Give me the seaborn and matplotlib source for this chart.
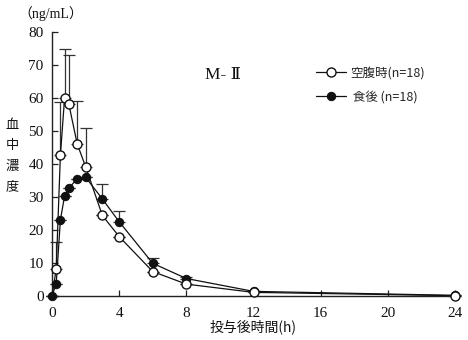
import numpy as np
import pandas as pd
import matplotlib
matplotlib.use("Agg")
import matplotlib.pyplot as plt
import seaborn as sns

# Data
time_h = [0, 0.25, 0.5, 0.75, 1, 1.5, 2, 3, 4, 6, 8, 12, 24]
fasting = [0, 8.1, 42.7, 60.0, 58.2, 46.1, 39.2, 24.4, 18.0, 7.4, 3.6, 1.1, 0.1]
fasting_sd_upper = [0, 16.3, 58.7, 74.7, 72.9, 59.2, 50.9, 0, 0, 0, 0, 0, 0]
fed = [0, 3.7, 23.0, 30.4, 32.6, 35.6, 36.0, 29.4, 22.5, 9.9, 5.3, 1.4, 0.2]
fed_sd_upper = [0, 0, 0, 0, 0, 0, 0, 33.9, 25.9, 11.4, 5.9, 0, 0]
x_ticks = [0, 4, 8, 12, 16, 20, 24]
y_ticks = [0, 10, 20, 30, 40, 50, 60, 70, 80]
label_fasting = "空腹時(n=18)"
label_fed = " 食後 (n=18)"

sns.set_theme(style="white")
plt.rcParams['font.family'] = ['Liberation Serif', 'Noto Sans CJK JP', 'DejaVu Sans']
jp = ['Noto Sans CJK JP', 'DejaVu Sans']

fig = plt.figure(figsize=(4.68, 3.40), dpi=100)
ax = fig.add_axes([52/468, 44/340, (455-52)/468, (296-32)/340])

df_fast = pd.DataFrame({"t": time_h, "c": fasting})
df_fed = pd.DataFrame({"t": time_h, "c": fed})

# error bars (upper only)
fe = np.array(fed_sd_upper) - np.array(fed)
fe[fe < 0] = 0
ff = np.array(fasting_sd_upper) - np.array(fasting)
ff[ff < 0] = 0
ax.errorbar(time_h, fed, yerr=[np.zeros_like(fe), fe], fmt='none', ecolor='#333333',
            elinewidth=0.9, capsize=4, capthick=0.9, zorder=1)
ax.errorbar(time_h, fasting, yerr=[np.zeros_like(ff), ff], fmt='none', ecolor='#333333',
            elinewidth=0.9, capsize=4, capthick=0.9, zorder=1)

sns.lineplot(data=df_fast, x="t", y="c", ax=ax, color='#111111', linewidth=0.9,
             marker='o', markersize=6.5, markerfacecolor='white', markeredgecolor='#111111',
             markeredgewidth=1.0, label=label_fasting, zorder=4,
             markevery=list(range(1, len(time_h))))
sns.lineplot(data=df_fed, x="t", y="c", ax=ax, color='#111111', linewidth=0.9,
             marker='o', markersize=6, markerfacecolor='#111111', markeredgecolor='#111111',
             label=label_fed, zorder=3)

ax.set_xlim(0, 24)
ax.set_ylim(0, 80)
ax.set_xticks(x_ticks)
ax.set_yticks(y_ticks)
ax.set_xlabel("")
ax.set_ylabel("")
for s in ['top', 'right']:
    ax.spines[s].set_visible(False)
for s in ['left', 'bottom']:
    ax.spines[s].set_color('#222222')
    ax.spines[s].set_linewidth(1.0)
ax.tick_params(direction='in', length=4, width=0.9, colors='#222222', labelsize=11,
               left=True, bottom=True, pad=6)
ax.tick_params(axis='x', pad=8)
for lab in ax.get_xticklabels() + ax.get_yticklabels():
    lab.set_color('#111111')
ax.set_facecolor('white')
for sp in ax.spines.values():
    sp.set_clip_on(False)
for ln in ax.lines:
    ln.set_clip_on(False)
for coll in ax.collections:
    coll.set_clip_on(False)

handles, labels = ax.get_legend_handles_labels()
order = [labels.index(label_fasting), labels.index(label_fed)]
leg = ax.legend([handles[i] for i in order], [labels[i] for i in order],
                loc='upper left', bbox_to_anchor=(305/468, 1 - 55/340), bbox_transform=fig.transFigure,
                frameon=False, handlelength=2.4, handletextpad=0.3, labelspacing=0.9,
                prop={'family': jp, 'size': 9})

fig.text(205/468, 1 - 75/340, "M- Ⅱ", fontsize=12.5, family=['Liberation Serif', 'DejaVu Serif'],
         va='center', ha='left', color='#111111')
fig.text(18/468, 1 - 14/340, "（ng/mL）", fontsize=10, va='center', ha='left', color='#111111')
fig.text(12/468, 1 - 156/340, "血\n中\n濃\n度", fontsize=9.5, family=jp, va='center',
         ha='center', linespacing=1.75, color='#111111')
fig.text(253/468, 1 - 327/340, "投与後時間(h)", fontsize=10, family=jp, va='center',
         ha='center', color='#111111')

fig.savefig("out.png", dpi=100, facecolor='white')
